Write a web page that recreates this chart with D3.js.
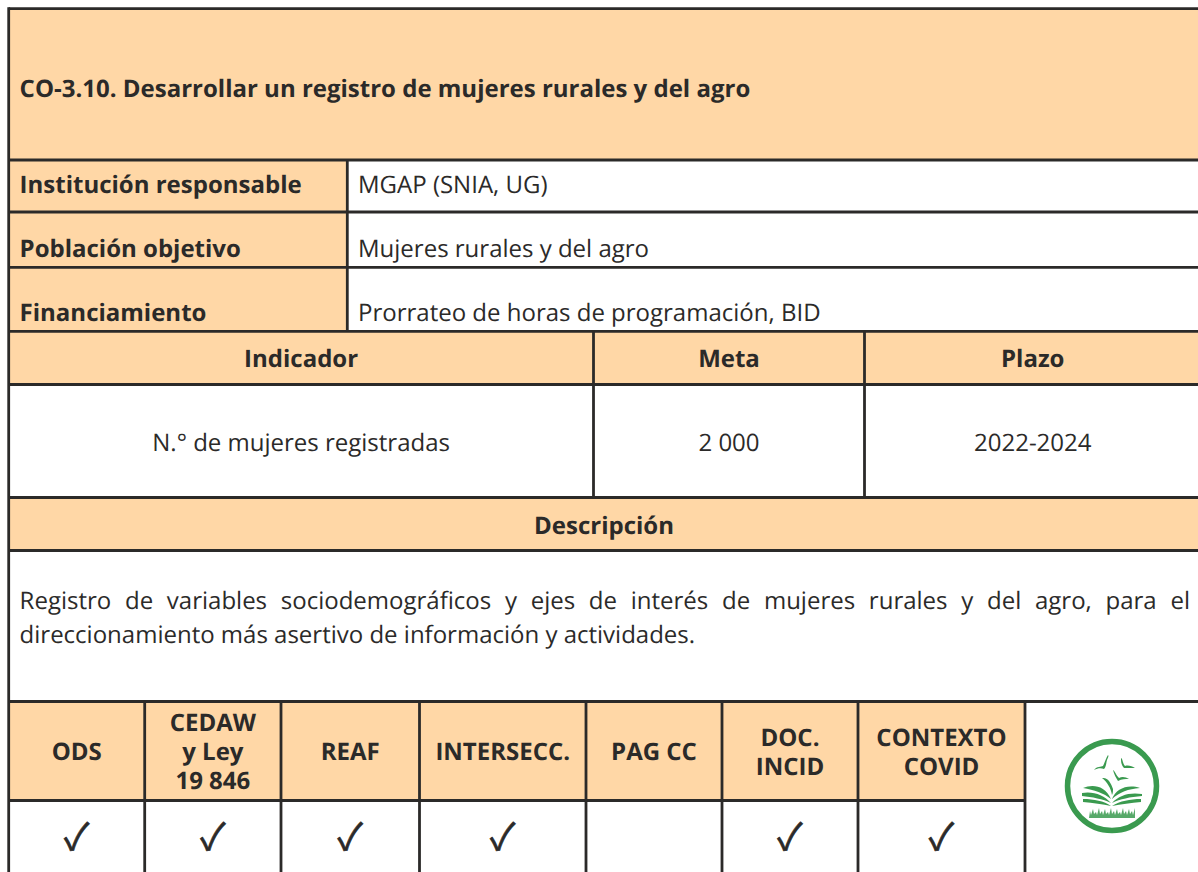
<!DOCTYPE html>
<html>
<head>
<meta charset="utf-8">
<script src="https://cdn.jsdelivr.net/npm/d3@7"></script>
<style>
  html, body { margin: 0; padding: 0; background: #fff; overflow: hidden; }
  text { font-family: "Open Sans", sans-serif; fill: #2b2a29; font-size: 24px; text-rendering: geometricPrecision; }
  .bold { font-weight: 700; }
</style>
</head>
<body>
<div id="chart"></div>
<script>
// table contents
const title = "CO-3.10. Desarrollar un registro de mujeres rurales y del agro";
const infoLabels = ["Institución responsable", "Población objetivo", "Financiamiento"];
const infoValues = ["MGAP (SNIA, UG)", "Mujeres rurales y del agro", "Prorrateo de horas de programación, BID"];
const indicatorHeaders = ["Indicador", "Meta", "Plazo"];
const indicatorValues = ["N.° de mujeres registradas", "2 000", "2022-2024"];
const descriptionHeader = "Descripción";
const descriptionLines = [
    "Registro de variables sociodemográficos y ejes de interés de mujeres rurales y del agro, para el",
    "direccionamiento más asertivo de información y actividades."
];
const markHeaders = [["ODS"], ["CEDAW", "y Ley", "19 846"], ["REAF"], ["INTERSECC."], ["PAG CC"], ["DOC.", "INCID"], ["CONTEXTO", "COVID"]];
const markChecks = [true, true, true, true, false, true, true];

const svgWidth = 1198;
const svgHeight = 872;
const peach = "#ffd7a6";
const ink = "#2b2a29";
const left = 8.7;

const svg = d3.select("#chart").append("svg")
    .attr("width", svgWidth)
    .attr("height", svgHeight)
    .style("display", "block");

// cell backgrounds, then text, then the rules on top
function cell(x0, y0, x1, y1, fill) {
    svg.append("rect").attr("x", x0).attr("y", y0)
        .attr("width", x1 - x0).attr("height", y1 - y0).attr("fill", fill);
}

function rule(x0, y0, x1, y1) {
    svg.append("line").attr("x1", x0).attr("y1", y0).attr("x2", x1).attr("y2", y1)
        .attr("stroke", ink).attr("stroke-width", 2.8);
}

function label(str, x, y, anchor, bold) {
    return svg.append("text").attr("x", x).attr("y", y)
        .attr("text-anchor", anchor)
        .attr("class", bold ? "bold" : null)
        .text(str);
}

// title
cell(left, 8.7, svgWidth, 160, peach);
label(title, 19.6, 97, "start", true);

// info rows
const infoEdges = [160, 212, 267.3, 331.3];
const infoBase = [193, 257, 321];
infoLabels.forEach((d, i) => {
    cell(left, infoEdges[i], 347.3, infoEdges[i + 1], peach);
    label(d, 19.6, infoBase[i], "start", true);
    label(infoValues[i], 358, infoBase[i], "start", false);
});

// indicator block
const indicatorEdges = [left, 593.5, 864.5, svgWidth + 3];
cell(left, 331.3, svgWidth, 384.5, peach);
indicatorHeaders.forEach((d, i) => {
    const cx = (indicatorEdges[i] + indicatorEdges[i + 1]) / 2;
    label(d, cx, 367, "middle", true);
    label(indicatorValues[i], cx, 451, "middle", false);
});

// description
cell(left, 497.5, svgWidth, 550.5, peach);
label(descriptionHeader, 604, 534, "middle", true);

// first line is justified to the right edge of the text block
const justified = label(descriptionLines[0], 19.6, 609, "start", false);
const gaps = descriptionLines[0].split(" ").length - 1;
justified.style("word-spacing", (1190 - 19.6 - justified.node().getComputedTextLength()) / gaps + "px");
label(descriptionLines[1], 19.6, 643, "start", false);

// marks table
const markEdges = [left, 144.7, 281, 419.5, 586, 722, 858, 1025];
const lineHeight = 29;
markHeaders.forEach((lines, i) => {
    const x0 = markEdges[i], x1 = markEdges[i + 1];
    const cx = (x0 + x1) / 2;
    cell(x0, 701.5, x1, 800.5, peach);
    const firstBase = 760 - (lines.length - 1) * lineHeight / 2;
    lines.forEach((t, j) => label(t, cx, firstBase + j * lineHeight, "middle", true));
    if (markChecks[i]) {
        svg.append("text").attr("x", cx).attr("y", 850)
            .attr("text-anchor", "middle")
            .style("font-family", "'Noto Sans CJK JP'")
            .style("font-size", "37px")
            .style("stroke", ink)
            .style("stroke-width", 0.7)
            .text("\u2713");
    }
});

// horizontal rules
[[8.7, left, svgWidth], [160, left, svgWidth], [212, left, svgWidth], [267.3, left, svgWidth],
 [331.3, left, svgWidth], [384.5, left, svgWidth], [497.5, left, svgWidth], [550.5, left, svgWidth],
 [701.5, left, svgWidth], [800.5, left, 1025]].forEach(d => rule(d[1], d[0], d[2], d[0]));

// vertical rules
rule(left, 7.3, left, svgHeight);
rule(347.3, 160, 347.3, 331.3);
rule(593.5, 331.3, 593.5, 497.5);
rule(864.5, 331.3, 864.5, 497.5);
markEdges.slice(1).forEach(x => rule(x, 701.5, x, svgHeight));

// round logo: book, birds and grass
const green = "#3a9a4f";
const logo = svg.append("g").attr("transform", "translate(1112,786)");
logo.append("circle").attr("r", 44.5).attr("fill", "#fff")
    .attr("stroke", green).attr("stroke-width", 5.5);
[
    // birds
    "M-18,-16 C-15,-20 -11,-19 -9,-20 C-7,-24 -6,-28 -4,-31 C-3,-30 -4,-28 -5,-26 C-6,-22 -6,-19 -8,-17 C-11,-18 -14,-18 -18,-16 Z",
    "M9,-28 C11,-27 10,-24 13,-20 C16,-21 20,-20 23,-18 C19,-18 16,-18 12,-18 C9,-21 9,-25 9,-28 Z",
    "M1,-16 C3,-15 4,-11 7,-8 C10,-10 14,-9 17,-7 C13,-7 10,-7 6,-5 C4,-8 2,-12 1,-16 Z",
    "M-10,-8 C-4,-9 -1,-3 1,3 C1,5 1,7 0,9 C-1,2 -5,-4 -10,-8 Z",
    // pages
    "M-29,2 C-20,-2 -7,-1 -1,13 C-8,7 -18,4 -29,2 Z",
    "M0,13 C4,3 15,-2 28,2 C16,3 8,6 0,13 Z",
    "M-30,7 C-19,5 -8,9 -1,17 C-9,13 -20,11 -30,10 Z",
    "M0,17 C7,9 18,6 30,8 L30,10 C18,11 8,13 0,17 Z",
    "M-29,13 C-18,13 -8,15 -1,20 C-9,18 -19,17 -29,16 Z",
    "M0,20 C8,15 18,13 29,13 L29,16 C19,17 9,18 0,20 Z"
].forEach(d => logo.append("path").attr("d", d).attr("fill", green));
// grass strip
logo.append("path")
    .attr("d", "M-23,32 L-22,25 L-21,29 L-19,23 L-18,28 L-16,26 L-15,29 L-13,22 L-12,28 L-10,25 L-9,29 L-7,23 L-6,28 L-4,26 L-3,29 L-1,22 L0,28 L2,25 L3,29 L5,23 L6,28 L8,26 L9,29 L11,22 L12,28 L14,25 L15,29 L17,23 L18,28 L20,25 L21,29 L23,22 L23,32 Z")
    .attr("fill", green).attr("opacity", 0.85);
</script>
</body>
</html>
